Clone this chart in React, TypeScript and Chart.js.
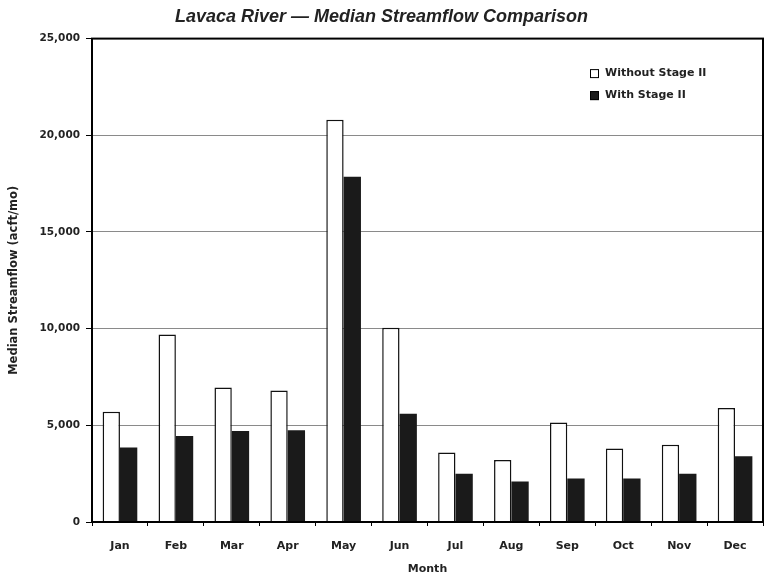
import React, { useEffect, useRef } from "react";
import { Chart, registerables } from "chart.js";

Chart.register(...registerables);

const months = ["Jan", "Feb", "Mar", "Apr", "May", "Jun", "Jul", "Aug", "Sep", "Oct", "Nov", "Dec"];
const withoutStageII = [5700, 9700, 6950, 6800, 20800, 10050, 3600, 3200, 5150, 3800, 4000, 5900];
const withStageII = [3850, 4450, 4700, 4750, 17850, 5600, 2500, 2100, 2250, 2250, 2500, 3400];
const seriesNames = ["Without Stage II", "With Stage II"];
const titleText = "Lavaca River \u2014 Median Streamflow Comparison";
const yAxisTitle = "Median Streamflow (acft/mo)";
const xAxisTitle = "Month";

const TITLE_FONT = "'Liberation Sans', Arial, sans-serif";
const FONT = "'DejaVu Sans', Verdana, sans-serif";

const framePlugin = {
  id: "frame",
  afterDraw(chart: any) {
    const { ctx, chartArea } = chart;
    ctx.save();
    ctx.strokeStyle = "#000";
    ctx.lineWidth = 2;
    ctx.strokeRect(chartArea.left, chartArea.top, chartArea.right - chartArea.left, chartArea.bottom - chartArea.top);
    ctx.restore();
  },
};

const insideLegend = {
  id: "insideLegend",
  afterDraw(chart: any) {
    const { ctx, chartArea } = chart;
    const x = chartArea.right - 173;
    const ys = [chartArea.top + 35, chartArea.top + 57];
    ctx.save();
    ctx.font = `bold 11px ${FONT}`;
    ctx.textBaseline = "middle";
    ctx.textAlign = "left";
    chart.data.datasets.forEach((ds: any, i: number) => {
      const y = ys[i];
      ctx.fillStyle = ds.backgroundColor;
      ctx.fillRect(x, y - 4.5, 9, 9);
      ctx.strokeStyle = "#000";
      ctx.lineWidth = 1;
      ctx.strokeRect(x + 0.5, y - 4, 8, 8);
      ctx.fillStyle = "#222";
      ctx.fillText(ds.label, x + 15, y);
    });
    ctx.restore();
  },
};

export default function App() {
  const ref = useRef<HTMLCanvasElement | null>(null);
  useEffect(() => {
    if (!ref.current) return;
    const chart = new Chart(ref.current, {
      type: "bar",
      data: {
        labels: months,
        datasets: [
          {
            label: seriesNames[0],
            data: withoutStageII,
            backgroundColor: "#ffffff",
            borderColor: "#111",
            borderWidth: 1.5,
            categoryPercentage: 0.62,
            barPercentage: 1.0,
          },
          {
            label: seriesNames[1],
            data: withStageII,
            backgroundColor: "#1a1a1a",
            borderColor: "#1a1a1a",
            borderWidth: 0,
            categoryPercentage: 0.62,
            barPercentage: 1.0,
          },
        ],
      },
      options: {
        animation: false,
        responsive: false,
        maintainAspectRatio: false,
        layout: { padding: { left: 0, right: 4, top: 0, bottom: 0 } },
        plugins: {
          legend: { display: false },
          tooltip: { enabled: false },
          title: {
            display: true,
            text: titleText,
            color: "#222",
            font: { family: TITLE_FONT, size: 18, style: "italic", weight: "bold" },
            padding: { top: 6, bottom: 11 },
          },
        },
        scales: {
          x: {
            grid: { display: true, drawOnChartArea: false, drawTicks: true, tickLength: 4, offset: true, color: "#000", tickColor: "#000" },
            border: { display: true, color: "#000", width: 2 },
            ticks: { color: "#222", font: { family: FONT, size: 11, weight: "bold" }, padding: 14, maxRotation: 0 },
            title: { display: true, text: xAxisTitle, color: "#222", font: { family: FONT, size: 11, weight: "bold" }, padding: { top: 4, bottom: 5 } },
            afterFit(scale: any) { scale.height = 59; },
          },
          y: {
            min: 0,
            max: 25000,
            grid: { color: "#8a8a8a", lineWidth: 1, tickLength: 6, tickColor: "#000" },
            border: { display: true, color: "#000", width: 2 },
            ticks: {
              stepSize: 5000,
              color: "#222",
              font: { family: FONT, size: 10.5, weight: "bold" },
              padding: 6,
              callback: (v: any) => Number(v).toLocaleString("en-US"),
            },
            title: { display: true, text: yAxisTitle, color: "#222", font: { family: FONT, size: 11.5, weight: "bold" }, padding: { top: 7, bottom: 0 } },
            afterFit(scale: any) { scale.width = 92; },
          },
        },
      },
      plugins: [framePlugin, insideLegend],
    } as any);
    return () => chart.destroy();
  }, []);
  return (
    <div style={{ position: "fixed", left: 0, top: 0, width: 767, height: 581, background: "#fff" }}>
      <canvas ref={ref} width={767} height={581} style={{ width: 767, height: 581, display: "block" }} />
    </div>
  );
}
